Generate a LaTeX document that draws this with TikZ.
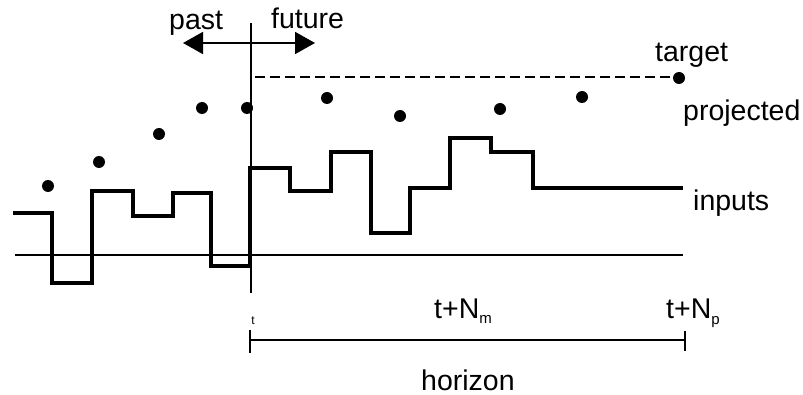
\documentclass[tikz,border=0pt]{standalone}
\usepackage{fontspec}
\setmainfont{Liberation Sans}
\usetikzlibrary{arrows.meta}
\begin{document}
\begin{tikzpicture}[x=1pt,y=-1pt,
  thinln/.style={line width=1.8pt},
  thickln/.style={line width=3.4pt,line join=miter},
  lbl/.style={inner sep=0pt,anchor=base west,font=\fontsize{28.5}{30}\selectfont},
  dotmark/.style={fill=black,draw=none},
  bigtip/.style={-{Triangle[length=20pt,width=22pt]}}]
\useasboundingbox (0,0) rectangle (803,395);
% time axis (now)
\coordinate (nowtop) at (251,23);
\coordinate (nowbot) at (251,293);
\draw[thinln] (nowtop) -- (nowbot);
% past / future arrows
\coordinate (arrc) at (251,43);
\coordinate (arrl) at (183,43);
\coordinate (arrr) at (315,43);
\draw[thinln,bigtip] (arrc) -- (arrl);
\draw[thinln,bigtip] (arrc) -- (arrr);
\node[lbl] (past) at (169,30) {past};
\node[lbl] (future) at (271,29) {future};
% target
\coordinate (tgs) at (255,77);
\coordinate (tge) at (676,77);
\draw[thinln,dash pattern=on 10pt off 5pt] (tgs) -- (tge);
\node[lbl] (target) at (655,62) {target};
\node[lbl] (projected) at (683,121) {projected};
% projected dots
\foreach \px/\py in {48/186,99/162,159/134,202/108,247/108,327/98,400/116,500/109,582/97,679/78}
  \fill[dotmark] (\px,\py) circle (6pt);
% baseline
\coordinate (bl) at (15,255);
\coordinate (br) at (683,255);
\draw[thinln] (bl) -- (br);
% inputs
\draw[thickln] (13,213) -- (52,213) -- (52,283) -- (92,283) -- (92,191) -- (133,191)
  -- (133,216) -- (173,216) -- (173,193) -- (211,193) -- (211,266) -- (250,266)
  -- (250,168) -- (290,168) -- (290,191) -- (331,191) -- (331,152) -- (371,152)
  -- (371,233) -- (410,233) -- (410,188) -- (450,188) -- (450,138) -- (491,138)
  -- (491,152) -- (533,152) -- (533,188) -- (683,188);
\node[lbl] (inputs) at (693,211) {inputs};
% horizon
\coordinate (hl) at (250,340);
\coordinate (hr) at (685,340);
\draw[thinln] (hl) -- (hr);
\draw[thinln] (250,330) -- (250,353);
\draw[thinln] (685,331) -- (685,351);
\node[inner sep=0pt,font=\fontsize{12}{12}\selectfont] (tnow) at (253,321) {t};
\node[lbl] (tnm) at (434,318) {t+N\raisebox{-0.35ex}{\fontsize{15}{15}\selectfont m}};
\node[lbl] (tnp) at (666,318) {t+N\raisebox{-0.45ex}{\fontsize{15}{15}\selectfont p}};
\node[lbl] (horizon) at (421,390) {horizon};
\end{tikzpicture}
\end{document}
